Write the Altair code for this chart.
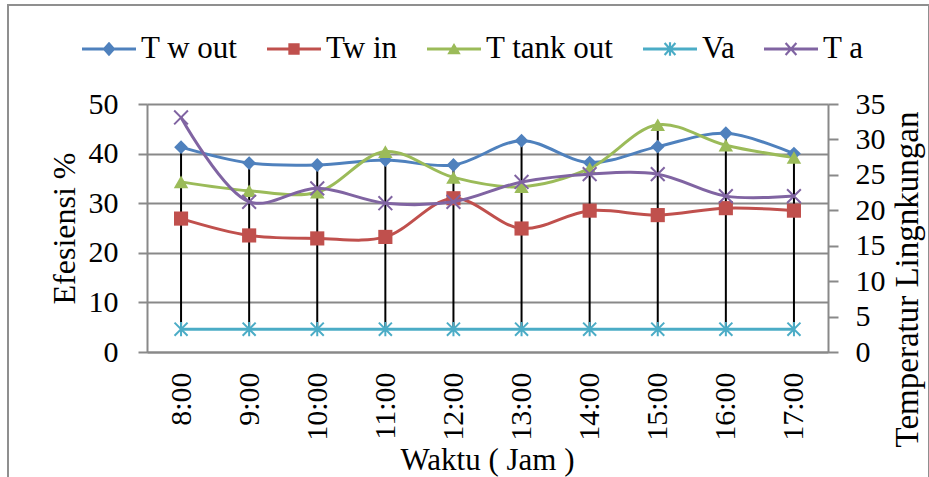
import altair as alt
import pandas as pd

# ---- data ----
times = ["8:00", "9:00", "10:00", "11:00", "12:00", "13:00", "14:00", "15:00", "16:00", "17:00"]
t_w_out = [41.3, 38.1, 37.7, 38.7, 37.7, 42.6, 38.2, 41.4, 44.1, 40.0]
tw_in = [26.9, 23.5, 22.9, 23.2, 31.0, 24.9, 28.5, 27.6, 29.0, 28.5]
t_tank_out = [34.3, 32.5, 32.2, 40.4, 35.2, 33.3, 37.0, 45.8, 41.7, 39.2]
va = [4.6, 4.6, 4.6, 4.6, 4.6, 4.6, 4.6, 4.6, 4.6, 4.6]
t_a = [33.1, 21.2, 23.1, 21.0, 21.2, 24.0, 25.1, 25.1, 22.0, 22.0]

series_names = ["T w out", "Tw in", "T tank out", "Va", "T a"]
series_colors = ["#4F81BD", "#C0504D", "#9BBB59", "#4BACC6", "#8064A2"]
primary_names = ["T w out", "Tw in", "T tank out", "Va"]

rows = []
for name, vals in zip(series_names, [t_w_out, tw_in, t_tank_out, va, t_a]):
    for t, v in zip(times, vals):
        rows.append({"time": t, "series": name, "value": v})
df = pd.DataFrame(rows)

FONT = "Liberation Serif"
GRID = "#898989"

# legend symbols: line + marker, drawn as filled shapes in a [-1,1] unit box
LINE = "M-1,-0.056H1V0.056H-1Z"
legend_paths = [
    LINE + "M0,-0.27L0.24,0L0,0.27L-0.24,0Z",
    LINE + "M-0.21,-0.21H0.21V0.21H-0.21Z",
    LINE + "M0,-0.22L0.25,0.19L-0.25,0.19Z",
    LINE + "M-0.04,-0.25H0.04V0.25H-0.04Z"
    + "M-0.23,-0.193L-0.17,-0.247L0.23,0.193L0.17,0.247Z"
    + "M0.23,-0.193L-0.17,0.247L-0.23,0.193L0.17,-0.247Z",
    LINE + "M-0.23,-0.193L-0.17,-0.247L0.23,0.193L0.17,0.247Z"
    + "M0.23,-0.193L-0.17,0.247L-0.23,0.193L0.17,-0.247Z",
]

x_enc = alt.X(
    "time:O",
    sort=times,
    scale=alt.Scale(type="point", padding=0.5),
    axis=alt.Axis(
        title="Waktu ( Jam )",
        labelAngle=270,
        labelAlign="right",
        labelBaseline="middle",
        labelFont=FONT,
        labelFontSize=30,
        labelColor="black",
        labelPadding=20,
        ticks=False,
        domainColor=GRID,
        domainWidth=2,
        titleFont=FONT,
        titleFontSize=31,
        titleFontWeight="normal",
        titleColor="black",
        titleBaseline="alphabetic",
        titleX=340,
        titleY=117,
        titleAlign="center",
    ),
)

color_scale = alt.Scale(domain=series_names, range=series_colors)

left_axis = alt.Axis(
    title="Efesiensi %",
    values=[0, 10, 20, 30, 40, 50],
    grid=True,
    gridColor=GRID,
    gridWidth=2,
    domainColor=GRID,
    domainWidth=2,
    tickColor=GRID,
    tickWidth=2,
    tickSize=9,
    labelFont=FONT,
    labelFontSize=30,
    labelColor="black",
    labelPadding=20,
    titleFont=FONT,
    titleFontSize=32,
    titleFontWeight="normal",
    titleColor="black",
    titleAngle=270,
    titleAlign="center",
    titleBaseline="middle",
    titleX=-83,
    titleY=124,
)
left_scale = alt.Scale(domain=[0, 50], nice=False)
y_left = alt.Y("value:Q", scale=left_scale, axis=left_axis)

y_right = alt.Y(
    "value:Q",
    scale=alt.Scale(domain=[0, 35], nice=False),
    axis=alt.Axis(
        orient="right",
        title="Temperatur Lingnkungan",
        values=[0, 5, 10, 15, 20, 25, 30, 35],
        grid=False,
        domainColor=GRID,
        domainWidth=2,
        tickColor=GRID,
        tickWidth=2,
        tickSize=10,
        labelFont=FONT,
        labelFontSize=30,
        labelColor="black",
        labelPadding=17,
        titleFont=FONT,
        titleFontSize=33,
        titleFontWeight="normal",
        titleColor="black",
        titleAngle=270,
        titleAlign="center",
        titleBaseline="middle",
        titleX=79,
        titleY=175,
    ),
)

base = alt.Chart(df)
primary_filter = alt.FieldOneOfPredicate(field="series", oneOf=primary_names)

# high-low lines across the primary series
rules = base.mark_rule(color="black", strokeWidth=2).transform_filter(primary_filter).encode(
    x=x_enc,
    y=alt.Y("min(value):Q", scale=left_scale, axis=left_axis),
    y2=alt.Y2("max(value):Q"),
)

lines_primary = base.mark_line(strokeWidth=3, interpolate="catmull-rom").transform_filter(primary_filter).encode(
    x=x_enc,
    y=y_left,
    color=alt.Color("series:N", scale=color_scale, legend=None),
    detail="series:N",
)


def pts(name, shape, color, size, filled, sw=0):
    kw = dict(shape=shape, size=size, filled=filled, opacity=1, color=color)
    if not filled:
        kw["strokeWidth"] = sw
    return base.mark_point(**kw).transform_filter(alt.datum.series == name)


ASTER = "M-1,-1L1,1M1,-1L-1,1M0,-1.1L0,1.1"
XMARK = "M-1,-1L1,1M1,-1L-1,1"

p1 = pts("T w out", "diamond", series_colors[0], 190, True).encode(x=x_enc, y=y_left)
p2 = pts("Tw in", "square", series_colors[1], 200, True).encode(x=x_enc, y=y_left)
p3 = pts("T tank out", "triangle-up", series_colors[2], 210, True).encode(x=x_enc, y=y_left)
p4 = pts("Va", ASTER, series_colors[3], 170, False, 2).encode(x=x_enc, y=y_left)

primary = alt.layer(rules, lines_primary, p1, p2, p3, p4)

line_ta = base.mark_line(strokeWidth=3, interpolate="catmull-rom").transform_filter(
    alt.datum.series == "T a"
).encode(
    x=x_enc,
    y=y_right,
    color=alt.Color("series:N", scale=color_scale, legend=None),
)
p5 = pts("T a", XMARK, series_colors[4], 190, False, 2).encode(x=x_enc, y=y_right)
secondary = alt.layer(line_ta, p5)

plot = alt.layer(primary, secondary).resolve_scale(y="independent")

legend_cfg = alt.Legend(
    title=None,
    orient="none",
    legendX=-65,
    legendY=-82,
    direction="horizontal",
    columns=5,
    columnPadding=29,
    labelFont=FONT,
    labelFontSize=31,
    labelColor="black",
    labelOffset=5,
    labelLimit=400,
    symbolSize=2916,
    symbolStrokeWidth=0,
    symbolOpacity=1,
    padding=0,
)

legend_layer = base.mark_point(filled=True).transform_filter(alt.datum.series == "__none__").encode(
    color=alt.Color("series:N", scale=alt.Scale(domain=series_names, range=series_colors), legend=legend_cfg),
    shape=alt.Shape("series:N", scale=alt.Scale(domain=series_names, range=legend_paths), legend=legend_cfg),
)

frame = alt.Chart(pd.DataFrame({"k": [0]})).mark_rect(
    fill=None, stroke="#8f8f8f", strokeWidth=2
).encode(
    x=alt.value(-139), x2=alt.value(782), y=alt.value(-99), y2=alt.value(390)
)

chart = alt.layer(frame, plot, legend_layer).resolve_scale(
    color="independent", shape="independent"
).properties(
    width=681,
    height=248,
    padding={"left": 147, "top": 104, "right": 101, "bottom": 125},
    autosize=alt.AutoSizeParams(type="none"),
).configure_view(stroke=None).configure(background="white")

chart.save("out.html", embed_options={"renderer": "svg", "actions": False})
